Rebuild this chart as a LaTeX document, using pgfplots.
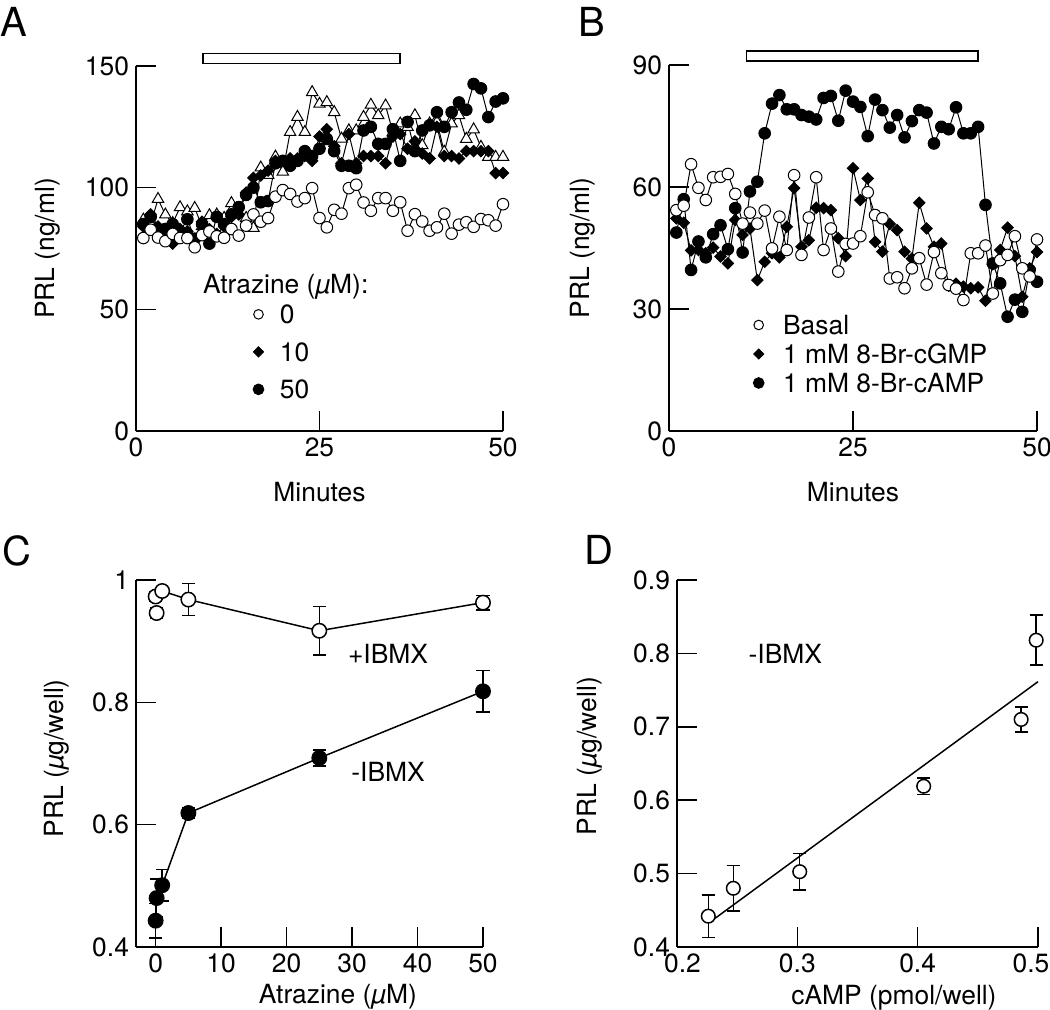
\documentclass[border=0pt]{standalone}
\usepackage{fontspec}
\setmainfont{TeX Gyre Heros}
\usepackage{pgfplots}
\pgfplotsset{compat=1.18}
\newcommand{\fs}{\fontsize{13.2}{15}\selectfont}
\pgfplotsset{
  panel/.style={
    scale only axis, anchor=south west, clip=false,
    axis x line=bottom, axis y line=left,
    axis line style={-, line width=0.75pt},
    tick align=inside, major tick length=10pt,
    every tick/.style={line width=0.75pt, black},
    tick label style={font=\fs},
    label style={font=\fs},
    /pgf/number format/assume math mode=true,
    legend image code/.code={\draw[##1] plot coordinates {(0pt,0pt)};},
  },
  ts/.style={black, line width=0.5pt, mark options={line width=0.5pt}},
  ocirc/.style={ts, mark=*, mark size=2.9pt, mark options={fill=white, draw=black}},
  fcirc/.style={ts, mark=*, mark size=2.9pt, mark options={fill=black, draw=black}},
  dmd/.style={ts, mark=square*, mark size=2.0pt, mark options={rotate=45, fill=black, draw=black}},
  tri/.style={ts, mark=triangle*, mark size=3.3pt, mark options={fill=white, draw=black}},
  eb/.style={black, line width=0.75pt, mark size=3.6pt,
    error bars/y dir=both, error bars/y explicit,
    error bars/error bar style={line width=0.75pt},
    error bars/error mark options={rotate=90, mark size=3.3pt, line width=0.75pt}},
}
\begin{document}
\begin{tikzpicture}
\path[use as bounding box] (0pt,0pt) rectangle (525pt,505pt);
\node[anchor=north west, inner sep=0pt, font=\fontsize{20}{24}\selectfont] at (0pt,501.5pt) {A};
\node[anchor=north west, inner sep=0pt, font=\fontsize{20}{24}\selectfont] at (289pt,501.5pt) {B};
\node[anchor=north west, inner sep=0pt, font=\fontsize{20}{24}\selectfont] at (1pt,237.5pt) {C};
\node[anchor=north west, inner sep=0pt, font=\fontsize{20}{24}\selectfont] at (292pt,237.5pt) {D};

% ---------------- Panel A
\begin{axis}[panel, at={(68pt,289.5pt)}, width=183.5pt, height=182.5pt,
  xmin=0, xmax=50, ymin=0, ymax=150,
  xtick={0,25,50}, ytick={0,50,100,150},
  xlabel={Minutes}, ylabel={PRL (ng/ml)},
  xlabel style={at={(axis description cs:0.5,-0.167)}, anchor=center},
  ylabel style={at={(axis description cs:-0.24,0.5)}, anchor=center},
  legend cell align=left,
  legend style={draw=none, fill=none, inner sep=0pt, font=\fs,
    at={(axis cs:15.9,52.0)}, anchor=north west, row sep=9.25pt,
    nodes={inner sep=0pt, text height=9.5pt, text depth=0pt},
    /tikz/every odd column/.style={column sep=8pt}},
]
\draw[line width=0.75pt] (axis cs:9.13,151.0) rectangle (axis cs:35.97,155.2);
\addplot[tri, forget plot] coordinates {(1,86.8)(2,85)(3,95.3)(4,88.9)(5,85.4)(6,91.9)(7,90.2)(8,91.6)(9,84.1)(10,88.6)(11,88.9)(12,87.5)(13,93.6)(14,89.6)(15,87.5)(16,83.4)(17,108.2)(18,105.2)(19,112.7)(20,106.5)(21,122.8)(22,129)(23,122.8)(24,139.2)(25,134.4)(26,135.1)(27,131)(28,120.1)(29,123.5)(30,123.5)(31,129)(32,134)(33,129.7)(34,133.7)(35,122.8)(36,126.3)(37,124.9)(38,129.7)(39,117.4)(40,126.3)(41,127)(42,114.7)(43,126.3)(44,129.7)(45,120)(46,123.9)(47,116.7)(48,112.6)(49,112.6)(50,112.6)};
\addplot[fcirc, forget plot] coordinates {(1,85)(2,88)(3,83)(4,83)(5,85)(6,82)(7,87)(8,79)(9,85)(10,77)(11,88)(12,85)(13,89)(14,92)(15,97)(16,100)(17,94)(18,94.5)(19,110)(20,111)(21,109)(22,111)(23,115)(24,113)(25,116)(26,120)(27,115)(28,109)(29,109)(30,108)(31,123.5)(32,125)(33,118)(34,118)(35,124)(36,111)(37,127)(38,115)(39,123.5)(40,125.6)(41,131)(42,125)(43,131)(44,135)(45,132)(46,142.6)(47,140.8)(48,129)(49,135.4)(50,136.7)};
\addplot[dmd, forget plot] coordinates {(1,84)(2,89)(3,84)(4,82)(5,77)(6,83)(7,82)(8,79)(9,86)(10,83)(11,81)(12,84)(13,88)(14,89)(15,98)(16,104)(17,105)(18,107)(19,111)(20,111)(21,112)(22,112)(23,113)(24,111)(25,121)(26,124)(27,117)(28,110)(29,122)(30,110)(31,113)(32,113)(33,113)(34,110)(35,121)(36,122)(37,116)(38,119)(39,114)(40,112)(41,125)(42,113)(43,113)(44,112)(45,115)(46,115)(47,115)(48,115)(49,106)(50,106)};
\addplot[ocirc, forget plot] coordinates {(1,79.3)(2,82.7)(3,79.5)(4,78)(5,81)(6,79.3)(7,79.3)(8,75.5)(9,80.5)(10,82)(11,80)(12,79.4)(13,83)(14,80.3)(15,84.4)(16,89)(17,86)(18,87.5)(19,96.3)(20,99)(21,97.4)(22,94.3)(23,95.7)(24,99.8)(25,87.5)(26,83.7)(27,90.9)(28,89.3)(29,99.8)(30,101.2)(31,93.9)(32,90.5)(33,95.7)(34,95.7)(35,90.5)(36,94)(37,82.3)(38,89.1)(39,86.1)(40,82.3)(41,83.7)(42,89.3)(43,81.1)(44,84.8)(45,85.8)(46,83.9)(47,87.1)(48,86.6)(49,84.4)(50,93.2)};
\node[font=\fs, anchor=center] at (axis cs:20.4,59.2) {Atrazine (\textit{µ}M):};
\addlegendimage{mark=*, mark size=2.4pt, mark options={fill=white, draw=black, line width=0.5pt}}
\addlegendimage{mark=square*, mark size=1.8pt, mark options={rotate=45, fill=black, draw=black}}
\addlegendimage{mark=*, mark size=2.7pt, mark options={fill=black, draw=black}}
\legend{0,10,50}
\end{axis}

% ---------------- Panel B
\begin{axis}[panel, at={(334.5pt,289.5pt)}, width=184pt, height=183pt,
  xmin=0, xmax=50, ymin=0, ymax=90,
  xtick={0,25,50}, ytick={0,30,60,90},
  xlabel={Minutes}, ylabel={PRL (ng/ml)},
  xlabel style={at={(axis description cs:0.5,-0.167)}, anchor=center},
  ylabel style={at={(axis description cs:-0.234,0.5)}, anchor=center},
  legend cell align=left,
  legend style={draw=none, fill=none, inner sep=0pt, font=\fs,
    at={(axis cs:11.4,28.5)}, anchor=north west, row sep=5pt,
    nodes={inner sep=0pt, text height=9.5pt, text depth=0pt},
    /tikz/every odd column/.style={column sep=9.5pt}},
]
\draw[line width=0.75pt] (axis cs:10.56,91.0) rectangle (axis cs:42.0,93.5);
\addplot[fcirc, forget plot] coordinates {(1,48.8)(2,57.0)(3,39.6)(4,46.6)(5,42.7)(6,48.4)(7,50.6)(8,44.7)(9,54.8)(10,43.9)(11,58.9)(12,61.3)(13,73.2)(14,80.5)(15,82.6)(16,79.1)(17,79.1)(18,77.7)(19,77.3)(20,76.6)(21,81.9)(22,82.4)(23,76.3)(24,83.7)(25,81.0)(26,79.7)(27,72.5)(28,81.5)(29,78.9)(30,74.6)(31,77.7)(32,72.2)(33,76.2)(34,78.9)(35,78.3)(36,70.7)(37,74.8)(38,74.2)(39,79.6)(40,73.2)(41,73.2)(42,74.8)(43,55.6)(44,41.2)(45,36.3)(46,28.1)(47,32.3)(48,29.3)(49,39.6)(50,36.7)};
\addplot[dmd, forget plot] coordinates {(1,52.3)(2,51.2)(3,44.4)(4,44.5)(5,43.7)(6,45.1)(7,42.9)(8,41.2)(9,51.9)(10,48.2)(11,49.8)(12,37.1)(13,41.6)(14,43.7)(15,42.7)(16,50.2)(17,59.7)(18,45.3)(19,46.9)(20,54.9)(21,54.8)(22,54.3)(23,47.4)(24,43.0)(25,64.6)(26,56.8)(27,62.1)(28,46.5)(29,44.1)(30,50.9)(31,49.4)(32,44.1)(33,42.4)(34,56.1)(35,49.8)(36,45.3)(37,46.1)(38,35.7)(39,36.2)(40,35.5)(41,35.1)(42,35.3)(43,32)(44,41)(45,44.5)(46,50)(47,43)(48,33)(49,40)(50,44)};
\addplot[ocirc, forget plot] coordinates {(1,54.3)(2,55.4)(3,65.6)(4,59.8)(5,56.8)(6,62.4)(7,62.5)(8,63.2)(9,58.3)(10,51.0)(11,53.7)(12,51.0)(13,54.2)(14,44.9)(15,52.7)(16,44.5)(17,62.9)(18,43.3)(19,52.5)(20,62.4)(21,44.5)(22,49.8)(23,39.2)(24,46.0)(25,46.1)(26,47.9)(27,58.7)(28,53.1)(29,52.3)(30,37.5)(31,37.8)(32,35.1)(33,40)(34,42.5)(35,36)(36,44)(37,38.8)(38,35.9)(39,35)(40,32.2)(41,43.7)(42,43.7)(43,45.6)(44,33.8)(45,42)(46,43.3)(47,47.9)(48,40)(49,38)(50,47.1)};
\addlegendimage{mark=*, mark size=2.4pt, mark options={fill=white, draw=black, line width=0.5pt}}
\addlegendimage{mark=square*, mark size=1.8pt, mark options={rotate=45, fill=black, draw=black}}
\addlegendimage{mark=*, mark size=2.7pt, mark options={fill=black, draw=black}}
\legend{Basal,1 mM 8-Br-cGMP,1 mM 8-Br-cAMP}
\end{axis}

% ---------------- Panel C
\begin{axis}[panel, at={(68pt,31.5pt)}, width=173.5pt, height=183.5pt,
  xmin=-3, xmax=50, ymin=0.4, ymax=1,
  xtick={0,10,20,30,40,50}, ytick={0.4,0.6,0.8,1},
  xlabel={Atrazine (\textit{µ}M)}, ylabel={PRL (\textit{µ}g/well)},
  xlabel style={at={(axis description cs:0.582,-0.136)}, anchor=center},
  ylabel style={at={(axis description cs:-0.228,0.514)}, anchor=center},
]
\addplot[eb, mark=*, mark options={fill=white}] coordinates {
 (0,0.973) +- (0,0.008) (1,0.982) +- (0,0.005) (5,0.968) +- (0,0.026)
 (25,0.917) +- (0,0.040) (50,0.963) +- (0,0.012)};
\addplot[eb, only marks, mark=*, mark options={fill=white}] coordinates {(0.15,0.946) +- (0,0.008)};
\addplot[eb, mark=*, mark options={fill=black}] coordinates {
 (0,0.443) +- (0,0.028) (0.15,0.480) +- (0,0.031) (1,0.501) +- (0,0.026)
 (5,0.619) +- (0,0.008) (25,0.709) +- (0,0.013) (50,0.818) +- (0,0.034)};
\node[font=\fs] at (axis cs:35.5,0.879) {+IBMX};
\node[font=\fs] at (axis cs:35.5,0.686) {-IBMX};
\end{axis}

% ---------------- Panel D
\begin{axis}[panel, at={(338.5pt,31.5pt)}, width=180.5pt, height=183.5pt,
  xmin=0.2, xmax=0.5, ymin=0.4, ymax=0.9,
  xtick={0.2,0.3,0.4}, xticklabels={\hspace{5.5pt}0.2,0.3,0.4},
  ytick={0.4,0.5,0.6,0.7,0.8,0.9},
  extra x ticks={0.5},
  extra x tick style={xticklabel style={xshift=-3.5pt}},
  xlabel={cAMP (pmol/well)}, ylabel={PRL (\textit{µ}g/well)},
  xlabel style={at={(axis description cs:0.601,-0.139)}, anchor=center},
  ylabel style={at={(axis description cs:-0.241,0.52)}, anchor=center},
  yticklabel style={/pgf/number format/fixed, /pgf/number format/precision=1},
]
\addplot[black, line width=0.75pt] coordinates {(0.2316,0.439) (0.5,0.7615)};
\addplot[eb, only marks, mark=*, mark size=3.4pt, mark options={fill=white}] coordinates {
 (0.226,0.442) +- (0,0.029) (0.2468,0.480) +- (0,0.031) (0.302,0.5026) +- (0,0.025)
 (0.405,0.619) +- (0,0.011) (0.486,0.710) +- (0,0.017) (0.4985,0.818) +- (0,0.034)};
\node[font=\fs] at (axis cs:0.29,0.80) {-IBMX};
\end{axis}
\end{tikzpicture}
\end{document}
